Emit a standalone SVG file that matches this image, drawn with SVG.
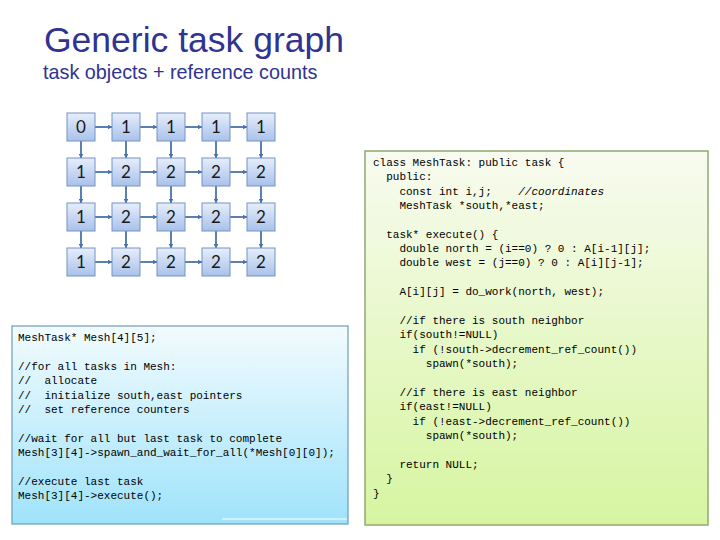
<svg xmlns="http://www.w3.org/2000/svg" width="720" height="540" viewBox="0 0 720 540">
<style>
.title{font-family:"Liberation Sans",Arial,sans-serif;fill:#303392}
.cell rect{fill:url(#cellg);stroke:#7393c4;stroke-width:1}
.cell text{font-family:"Lato","Liberation Sans",sans-serif;font-size:17px;fill:#1a1a1a;text-anchor:middle}
.conn line{stroke:#4a72a8;stroke-width:1.8;marker-end:url(#ah)}
.code{font-family:"Liberation Mono","DejaVu Sans Mono",monospace;font-size:11px;fill:#000;white-space:pre}
.it{font-style:italic}
</style>
<defs>
<linearGradient id="cellg" x1="0" y1="0" x2="0" y2="1">
<stop offset="0" stop-color="#e6eefb"/><stop offset="1" stop-color="#a9c1ea"/>
</linearGradient>
<linearGradient id="greeng" x1="0" y1="0" x2="0" y2="1">
<stop offset="0" stop-color="#f8fbf0"/><stop offset="1" stop-color="#d6f5a0"/>
</linearGradient>
<linearGradient id="blueg" x1="0" y1="0" x2="0" y2="1">
<stop offset="0" stop-color="#f2fbfe"/><stop offset="1" stop-color="#9fe3fb"/>
</linearGradient>
<marker id="ah" viewBox="0 0 6 6" refX="5.5" refY="3" markerWidth="2.6" markerHeight="2.6" orient="auto">
<path d="M0,0 L6,3 L0,6 z" fill="#4a72a8"/>
</marker>
</defs>
<rect width="720" height="540" fill="#fff"/>
<text class="title" x="44" y="52" font-size="35.5">Generic task graph</text>
<text class="title" x="43" y="79" font-size="19.8">task objects + reference counts</text>

<g class="conn">
<line x1="95" y1="127" x2="112" y2="127"/><line x1="140" y1="127" x2="157" y2="127"/><line x1="185" y1="127" x2="202" y2="127"/><line x1="230" y1="127" x2="247" y2="127"/>
<line x1="95" y1="172" x2="112" y2="172"/><line x1="140" y1="172" x2="157" y2="172"/><line x1="185" y1="172" x2="202" y2="172"/><line x1="230" y1="172" x2="247" y2="172"/>
<line x1="95" y1="217" x2="112" y2="217"/><line x1="140" y1="217" x2="157" y2="217"/><line x1="185" y1="217" x2="202" y2="217"/><line x1="230" y1="217" x2="247" y2="217"/>
<line x1="95" y1="262" x2="112" y2="262"/><line x1="140" y1="262" x2="157" y2="262"/><line x1="185" y1="262" x2="202" y2="262"/><line x1="230" y1="262" x2="247" y2="262"/>
<line x1="81" y1="141" x2="81" y2="158"/><line x1="126" y1="141" x2="126" y2="158"/><line x1="171" y1="141" x2="171" y2="158"/><line x1="216" y1="141" x2="216" y2="158"/><line x1="261" y1="141" x2="261" y2="158"/>
<line x1="81" y1="186" x2="81" y2="203"/><line x1="126" y1="186" x2="126" y2="203"/><line x1="171" y1="186" x2="171" y2="203"/><line x1="216" y1="186" x2="216" y2="203"/><line x1="261" y1="186" x2="261" y2="203"/>
<line x1="81" y1="231" x2="81" y2="248"/><line x1="126" y1="231" x2="126" y2="248"/><line x1="171" y1="231" x2="171" y2="248"/><line x1="216" y1="231" x2="216" y2="248"/><line x1="261" y1="231" x2="261" y2="248"/>
</g>

<g id="n00" class="cell"><rect x="67" y="113" width="28" height="28"/><text x="81" y="133">0</text></g>
<g id="n01" class="cell"><rect x="112" y="113" width="28" height="28"/><text x="126" y="133">1</text></g>
<g id="n02" class="cell"><rect x="157" y="113" width="28" height="28"/><text x="171" y="133">1</text></g>
<g id="n03" class="cell"><rect x="202" y="113" width="28" height="28"/><text x="216" y="133">1</text></g>
<g id="n04" class="cell"><rect x="247" y="113" width="28" height="28"/><text x="261" y="133">1</text></g>
<g id="n10" class="cell"><rect x="67" y="158" width="28" height="28"/><text x="81" y="178">1</text></g>
<g id="n11" class="cell"><rect x="112" y="158" width="28" height="28"/><text x="126" y="178">2</text></g>
<g id="n12" class="cell"><rect x="157" y="158" width="28" height="28"/><text x="171" y="178">2</text></g>
<g id="n13" class="cell"><rect x="202" y="158" width="28" height="28"/><text x="216" y="178">2</text></g>
<g id="n14" class="cell"><rect x="247" y="158" width="28" height="28"/><text x="261" y="178">2</text></g>
<g id="n20" class="cell"><rect x="67" y="203" width="28" height="28"/><text x="81" y="223">1</text></g>
<g id="n21" class="cell"><rect x="112" y="203" width="28" height="28"/><text x="126" y="223">2</text></g>
<g id="n22" class="cell"><rect x="157" y="203" width="28" height="28"/><text x="171" y="223">2</text></g>
<g id="n23" class="cell"><rect x="202" y="203" width="28" height="28"/><text x="216" y="223">2</text></g>
<g id="n24" class="cell"><rect x="247" y="203" width="28" height="28"/><text x="261" y="223">2</text></g>
<g id="n30" class="cell"><rect x="67" y="248" width="28" height="28"/><text x="81" y="268">1</text></g>
<g id="n31" class="cell"><rect x="112" y="248" width="28" height="28"/><text x="126" y="268">2</text></g>
<g id="n32" class="cell"><rect x="157" y="248" width="28" height="28"/><text x="171" y="268">2</text></g>
<g id="n33" class="cell"><rect x="202" y="248" width="28" height="28"/><text x="216" y="268">2</text></g>
<g id="n34" class="cell"><rect x="247" y="248" width="28" height="28"/><text x="261" y="268">2</text></g>

<g id="classbox">
<rect x="365" y="151" width="343" height="374" fill="url(#greeng)" stroke="#93a870" stroke-width="1.5"/>
<text class="code" x="373" y="166">class MeshTask: public task {</text>
<text class="code" x="373" y="180">  public:</text>
<text class="code" x="373" y="195">    const int i,j;    <tspan class="it">//coordinates</tspan></text>
<text class="code" x="373" y="209">    MeshTask *south,*east;</text>
<text class="code" x="373" y="238">  task* execute() {</text>
<text class="code" x="373" y="252">    double north = (i==0) ? 0 : A[i-1][j];</text>
<text class="code" x="373" y="266">    double west = (j==0) ? 0 : A[i][j-1];</text>
<text class="code" x="373" y="295">    A[i][j] = do_work(north, west);</text>
<text class="code" x="373" y="324">    //if there is south neighbor</text>
<text class="code" x="373" y="338">    if(south!=NULL)</text>
<text class="code" x="373" y="353">      if (!south-&gt;decrement_ref_count())</text>
<text class="code" x="373" y="367">        spawn(*south);</text>
<text class="code" x="373" y="396">    //if there is east neighbor</text>
<text class="code" x="373" y="410">    if(east!=NULL)</text>
<text class="code" x="373" y="425">      if (!east-&gt;decrement_ref_count())</text>
<text class="code" x="373" y="439">        spawn(*south);</text>
<text class="code" x="373" y="468">    return NULL;</text>
<text class="code" x="373" y="482">  }</text>
<text class="code" x="373" y="497">}</text>
</g>

<g id="mainbox">
<rect x="12" y="326" width="336" height="198" fill="url(#blueg)" stroke="#6b9db8" stroke-width="1.2"/>
<line x1="222" y1="519" x2="347" y2="519" stroke="#ffffff" stroke-width="1"/>
<text class="code" x="18" y="341">MeshTask* Mesh[4][5];</text>
<text class="code" x="18" y="370">//for all tasks in Mesh:</text>
<text class="code" x="18" y="384">//  allocate</text>
<text class="code" x="18" y="399">//  initialize south,east pointers</text>
<text class="code" x="18" y="413">//  set reference counters</text>
<text class="code" x="18" y="442">//wait for all but last task to complete</text>
<text class="code" x="18" y="456">Mesh[3][4]-&gt;spawn_and_wait_for_all(*Mesh[0][0]);</text>
<text class="code" x="18" y="485">//execute last task</text>
<text class="code" x="18" y="499">Mesh[3][4]-&gt;execute();</text>
</g>
</svg>
